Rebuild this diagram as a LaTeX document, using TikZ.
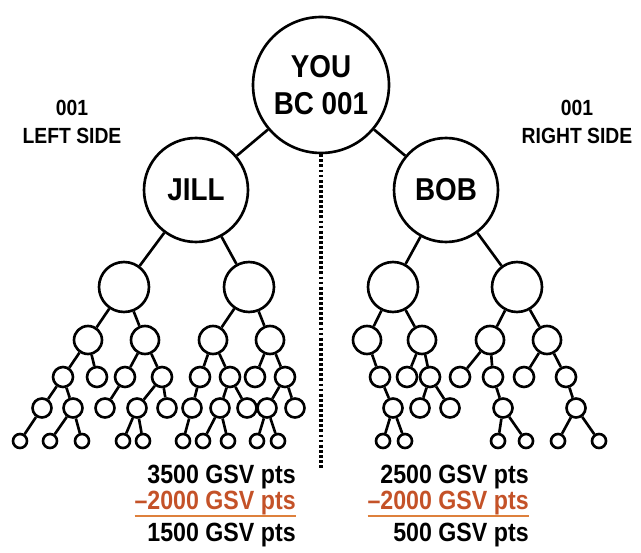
\documentclass[tikz,border=0pt]{standalone}
\usepackage{fontspec}
\setmainfont{Liberation Sans}[FakeStretch=0.88]
\definecolor{minus}{RGB}{196,82,40}
\definecolor{minusline}{RGB}{222,128,60}
\newcommand\minusrow[1]{\setbox0\hbox{\textcolor{minus}{#1}}\rlap{\textcolor{minusline}{\rule[-4.2pt]{\wd0}{1.1pt}}}\box0}
\tikzset{
  head/.style={circle,draw,inner sep=0pt,minimum size=2.72cm,align=center,font=\bfseries\fontsize{18}{21}\selectfont},
  sub/.style={circle,draw,inner sep=0pt,minimum size=2.08cm,font=\bfseries\fontsize{18}{21}\selectfont},
  tier2/.style={circle,draw,inner sep=0pt,minimum size=1.0cm},
  tier3/.style={circle,draw,inner sep=0pt,minimum size=0.56cm},
  tier4/.style={circle,draw,inner sep=0pt,minimum size=0.40cm},
  tier5/.style={circle,draw,inner sep=0pt,minimum size=0.38cm},
  tier6/.style={circle,draw,inner sep=0pt,minimum size=0.28cm},
  side/.style={align=center,inner sep=0pt,font=\bfseries\fontsize{12.5}{16}\selectfont},
  total/.style={align=right,inner sep=0pt,anchor=east,font=\bfseries\fontsize{15}{14.5}\selectfont}
}
\begin{document}
\begin{tikzpicture}[x=0.02cm,y=-0.02cm,line width=1.5pt]

\useasboundingbox (0,0) rectangle (641,553);

% you and the two first members
\node[head] (you) at (321,85) {YOU\\BC 001};
\node[sub] (jill) at (196,190) {JILL};
\node[sub] (bob) at (446,190) {BOB};
\draw (you)--(jill);
\draw (you)--(bob);

% dotted split between the sides
\coordinate (split) at (321,470);
\draw[line width=1.8pt,dash pattern=on 1.6pt off 1.3pt] (you)--(split);

\node[side] (lside) at (72,122) {001\\LEFT SIDE};
\node[side] (rside) at (577,122) {001\\RIGHT SIDE};

% the rest of the downline
\foreach \x in {124,249,393,517} \node[tier2] (b\x) at (\x,287) {};
\foreach \x in {88,145,213,270,367,422,490,547} \node[tier3] (c\x) at (\x,340) {};
\foreach \x in {63,97,125,162,200,230,255,285,380,407,430,460,493,524,566} \node[tier4] (d\x) at (\x,377) {};
\foreach \x in {42,73,105,137,167,192,220,247,267,295,393,420,450,503,576} \node[tier5] (e\x) at (\x,408) {};
\foreach \x in {20,50,82,123,143,183,203,228,257,278,383,405,498,526,558,599} \node[tier6] (f\x) at (\x,441) {};

\draw (jill)--(b124);
\draw (jill)--(b249);
\draw (bob)--(b393);
\draw (bob)--(b517);
\foreach \a/\b in {b124/c88,b124/c145,b249/c213,b249/c270,b393/c367,b393/c422,b517/c490,b517/c547,
  c88/d63,c88/d97,c145/d125,c145/d162,c213/d200,c213/d230,c270/d255,c270/d285,
  c367/d380,c422/d407,c422/d430,c490/d460,c490/d493,c547/d524,c547/d566,
  d63/e42,d63/e73,d125/e105,d162/e137,d162/e167,d200/e192,d230/e220,d230/e247,d285/e267,d285/e295,
  d380/e393,d430/e420,d430/e450,d493/e503,d566/e576,
  e42/f20,e73/f50,e73/f82,e137/f123,e137/f143,e192/f183,e220/f203,e220/f228,e267/f257,e267/f278,
  e393/f383,e393/f405,e503/f498,e503/f526,e576/f558,e576/f599}
  \draw (\a)--(\b);

% points per side
\node[total] (ltotal) at (297,506) {3500 GSV pts\\\minusrow{--2000 GSV pts}\\[2.5pt]1500 GSV pts};
\node[total] (rtotal) at (530,506) {2500 GSV pts\\\minusrow{--2000 GSV pts}\\[2.5pt]500 GSV pts};

\end{tikzpicture}
\end{document}
